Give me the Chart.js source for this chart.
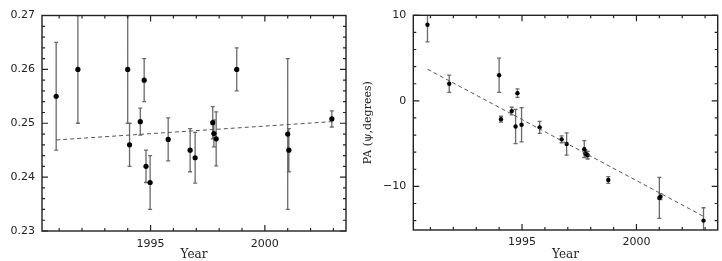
<!DOCTYPE html>
<html><head><meta charset="utf-8">
<script src="https://cdn.jsdelivr.net/npm/chart.js@4"></script>
<style>
html,body{margin:0;padding:0;background:#fff;overflow:hidden}
#wrap{position:relative;width:722px;height:261px}
.box{position:absolute;top:0;width:361px;height:261px}
</style></head><body>
<div id="wrap">
<div class="box" style="left:0"><canvas id="c1" width="361" height="261"></canvas></div>
<div class="box" style="left:361px"><canvas id="c2" width="361" height="261"></canvas></div>
</div>
<script>
// ---- data ----
const obsYears = [1990.87, 1991.82, 1994.0, 1994.08, 1994.55, 1994.72, 1994.8, 1994.98, 1995.77,
                  1996.73, 1996.95, 1997.72, 1997.77, 1997.87, 1998.77, 2001.0, 2001.05, 2002.93];
const ratioValues = [0.255, 0.260, 0.260, 0.246, 0.2503, 0.258, 0.242, 0.239, 0.247,
                     0.245, 0.2436, 0.2501, 0.2481, 0.2471, 0.260, 0.248, 0.245, 0.2508];
const ratioErrors = [0.010, 0.010, 0.010, 0.004, 0.0025, 0.004, 0.003, 0.005, 0.004,
                     0.004, 0.0047, 0.003, 0.0025, 0.005, 0.004, 0.014, 0.004, 0.0015];
const paValues = [8.9, 2.0, 3.0, -2.15, -1.2, -3.0, 0.9, -2.8, -3.1,
                  -4.5, -5.05, -5.65, -6.15, -6.35, -9.25, -11.35, -11.2, -14.0];
const paErrors = [2.0, 1.0, 2.0, 0.35, 0.45, 2.0, 0.5, 2.0, 0.7,
                  0.4, 1.3, 1.0, 0.4, 0.45, 0.4, 2.4, 0.35, 1.5];
const ratioFitYears = [1990.87, 2002.93];
const ratioFitValues = [0.2469, 0.2503];
const paFitYears = [1990.87, 2002.93];
const paFitValues = [3.7, -13.5];

const yearTicks = [1995, 2000];
const yearMinor = [1991, 1992, 1993, 1994, 1996, 1997, 1998, 1999, 2001, 2002, 2003];
const ratioTicks = [0.23, 0.24, 0.25, 0.26, 0.27];
const ratioMinor = [0.232, 0.234, 0.236, 0.238, 0.242, 0.244, 0.246, 0.248,
                    0.252, 0.254, 0.256, 0.258, 0.262, 0.264, 0.266, 0.268];
const paTicks = [-10, 0, 10];
const paMinor = [-14, -12, -8, -6, -4, -2, 2, 4, 6, 8];

// ---- plugins (per chart, via closures) ----
function frameAndTicks(xMajor, xMinor, yMajor, yMinor) {
  return {
    id: 'frameAndTicks',
    afterDraw(chart) {
      const {ctx, chartArea: a, scales: {x, y}} = chart;
      ctx.save();
      ctx.strokeStyle = '#222';
      ctx.lineWidth = 1.2;
      ctx.beginPath();
      const vx = (vals, len) => vals.forEach(v => {
        const p = x.getPixelForValue(v);
        ctx.moveTo(p, a.bottom); ctx.lineTo(p, a.bottom - len);
        ctx.moveTo(p, a.top); ctx.lineTo(p, a.top + len);
      });
      const vy = (vals, len) => vals.forEach(v => {
        const p = y.getPixelForValue(v);
        ctx.moveTo(a.left, p); ctx.lineTo(a.left + len, p);
        ctx.moveTo(a.right, p); ctx.lineTo(a.right - len, p);
      });
      vx(xMajor, 6); vx(xMinor, 3);
      vy(yMajor, 6); vy(yMinor, 3);
      ctx.stroke();
      ctx.lineWidth = 1.4;
      ctx.strokeRect(a.left, a.top, a.right - a.left, a.bottom - a.top);
      ctx.restore();
    }
  };
}
function errorBars(xs, ys, errs) {
  return {
    id: 'errorBars',
    beforeDatasetsDraw(chart) {
      const {ctx, chartArea: a, scales: {x, y}} = chart;
      ctx.save();
      ctx.beginPath();
      ctx.rect(a.left, a.top, a.right - a.left, a.bottom - a.top);
      ctx.clip();
      ctx.strokeStyle = '#6a6a6a';
      ctx.lineWidth = 1.3;
      ctx.beginPath();
      xs.forEach((xv, i) => {
        const px = x.getPixelForValue(xv);
        const t = y.getPixelForValue(ys[i] + errs[i]);
        const b = y.getPixelForValue(ys[i] - errs[i]);
        ctx.moveTo(px, t); ctx.lineTo(px, b);
        ctx.moveTo(px - 2, t); ctx.lineTo(px + 2, t);
        ctx.moveTo(px - 2, b); ctx.lineTo(px + 2, b);
      });
      ctx.stroke();
      ctx.restore();
    }
  };
}

function makeChart(id, cfg) {
  const pts = cfg.xs.map((v, i) => ({x: v, y: cfg.ys[i]}));
  const fit = cfg.fitX.map((v, i) => ({x: v, y: cfg.fitY[i]}));
  return new Chart(document.getElementById(id), {
    type: 'scatter',
    data: {datasets: [
      {type: 'line', data: fit, borderColor: '#555', borderWidth: 1, borderDash: [4, 3],
       pointRadius: 0, fill: false, tension: 0},
      {data: pts, pointRadius: cfg.radius, pointBackgroundColor: '#000', pointBorderColor: '#000',
       pointBorderWidth: 0, showLine: false}
    ]},
    options: {
      responsive: false, animation: false, devicePixelRatio: 1,
      layout: {padding: cfg.padding},
      plugins: {legend: {display: false}, tooltip: {enabled: false}},
      scales: {
        x: {type: 'linear', min: 1990.25, max: 2003.55,
            grid: {display: false, drawTicks: false, tickLength: 0}, border: {display: false},
            afterBuildTicks: s => { s.ticks = yearTicks.map(v => ({value: v})); },
            afterFit: s => { s.height = cfg.xH; },
            ticks: {padding: cfg.xPad, color: '#222', font: {family: 'DejaVu Sans', size: 11},
                    callback: v => String(v)},
            title: {display: true, text: 'Year', color: '#222',
                    font: {family: 'DejaVu Serif', size: 12, lineHeight: 1}, padding: {top: 0, bottom: 0}}},
        y: {type: 'linear', min: cfg.yMin, max: cfg.yMax,
            grid: {display: false, drawTicks: false, tickLength: 0}, border: {display: false},
            afterBuildTicks: s => { s.ticks = cfg.yTicks.map(v => ({value: v})); },
            afterFit: s => { s.width = cfg.yW; },
            ticks: {padding: 7, color: '#222', font: {family: 'DejaVu Sans', size: 11},
                    callback: cfg.yFmt},
            title: cfg.yTitle}
      }
    },
    plugins: [errorBars(cfg.xs, cfg.ys, cfg.errs),
              frameAndTicks(yearTicks, yearMinor, cfg.yTicks, cfg.yMinor)]
  });
}

makeChart('c1', {
  xs: obsYears, ys: ratioValues, errs: ratioErrors,
  fitX: ratioFitYears, fitY: ratioFitValues,
  yMin: 0.23, yMax: 0.27, yTicks: ratioTicks, yMinor: ratioMinor,
  yFmt: v => v.toFixed(2), yW: 42, xH: 30, xPad: 7, radius: 2.6,
  padding: {top: 15.5, right: 15, left: 0, bottom: 0},
  yTitle: {display: false}
});
makeChart('c2', {
  xs: obsYears, ys: paValues, errs: paErrors,
  fitX: paFitYears, fitY: paFitValues,
  yMin: -15.1, yMax: 10, yTicks: paTicks, yMinor: paMinor,
  yFmt: v => (v < 0 ? '\u2212' + Math.abs(v) : String(v)), yW: 52.3, xH: 31, xPad: 6, radius: 2.2,
  padding: {top: 15.3, right: 4.3, left: 0, bottom: 0},
  yTitle: {display: true, text: 'PA (\u03C8,degrees)', color: '#222',
           font: {family: 'DejaVu Serif', size: 11, lineHeight: 1}, padding: {top: 1.5, bottom: 0}}
});
</script>
</body></html>
